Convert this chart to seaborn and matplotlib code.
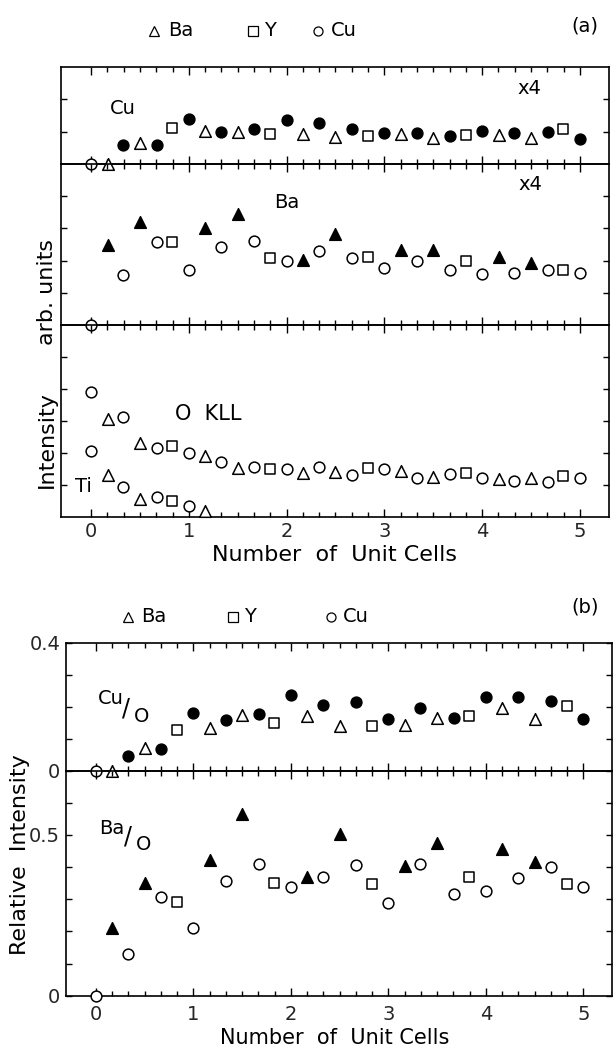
import matplotlib.pyplot as plt
import matplotlib.lines as mlines
import seaborn as sns

sns.set_style("ticks")
plt.rcParams['font.family'] = ['DejaVu Sans']

# layer positions in unit cells: Cu, Ba and Y planes
x_cu = [0.0, 0.33, 0.67, 1.0, 1.33, 1.67, 2.0, 2.33, 2.67, 3.0, 3.33, 3.67, 4.0, 4.33, 4.67, 5.0]
x_ba = [0.17, 0.5, 1.17, 1.5, 2.17, 2.5, 3.17, 3.5, 4.17, 4.5]
x_y = [0.83, 1.83, 2.83, 3.83, 4.83]

# (a) Cu intensity (x4), arb. units
cu_a_cu = [0.0, 0.6, 0.6, 1.4, 0.99, 1.08, 1.36, 1.27, 1.07, 0.96, 0.96, 0.87, 1.03, 0.96, 0.99, 0.76]
cu_a_ba = [0.0, 0.65, 1.02, 0.99, 0.92, 0.83, 0.91, 0.8, 0.9, 0.8]
cu_a_y = [1.12, 0.92, 0.87, 0.9, 1.08]

# (a) Ba intensity (x4)
ba_a_cu = [0.0, 1.56, 2.58, 1.7, 2.42, 2.6, 1.99, 2.29, 2.08, 1.77, 1.98, 1.7, 1.59, 1.61, 1.7, 1.63]
ba_a_ba = [2.48, 3.2, 3.0, 3.44, 2.03, 2.82, 2.33, 2.32, 2.12, 1.92]
ba_a_y = [2.58, 2.09, 2.1, 2.0, 1.72]

# (a) O KLL and Ti
o_cu = [3.9, 3.11, 2.14, 2.0, 1.7, 1.56, 1.48, 1.54, 1.29, 1.49, 1.2, 1.35, 1.22, 1.11, 1.1, 1.22]
o_ba = [3.06, 2.32, 1.9, 1.53, 1.37, 1.4, 1.42, 1.25, 1.18, 1.21]
o_y = [2.21, 1.5, 1.53, 1.37, 1.27]
ti_cu = [2.07, 0.92, 0.63, 0.33]
ti_ba = [1.31, 0.55, 0.19]
ti_y = [0.49]

# (b) relative intensities
cuo_cu = [0.0, 0.047, 0.067, 0.179, 0.157, 0.178, 0.236, 0.206, 0.216, 0.161, 0.197, 0.166, 0.229, 0.231, 0.219, 0.162]
cuo_ba = [0.0, 0.072, 0.134, 0.173, 0.171, 0.141, 0.143, 0.165, 0.195, 0.163]
cuo_y = [0.128, 0.15, 0.139, 0.17, 0.202]
bao_cu = [0.0, 0.129, 0.307, 0.21, 0.358, 0.409, 0.337, 0.368, 0.408, 0.288, 0.409, 0.316, 0.326, 0.366, 0.4, 0.338]
bao_ba = [0.211, 0.351, 0.422, 0.565, 0.37, 0.504, 0.402, 0.474, 0.455, 0.415]
bao_y = [0.29, 0.35, 0.348, 0.37, 0.348]

W, H = 614, 1047
fig = plt.figure(figsize=(W / 100, H / 100), dpi=100)
fig.patch.set_facecolor('white')

minor = [k / 6 for k in range(31) if k % 6]
sizes = {'o': 60, '^': 70, 's': 50}


def box(left, top, right, bottom):
    ax = fig.add_axes([left / W, 1 - bottom / H, (right - left) / W, (bottom - top) / H])
    ax.set_facecolor('none')
    return ax


def frame(ax, ylim, yticks, labels=False):
    ax.set_xlim(-0.31, 5.3)
    ax.set_ylim(*ylim)
    ax.set_xticks(range(6))
    ax.set_xticks(minor, minor=True)
    ax.set_yticks(yticks)
    ax.tick_params(which='both', direction='in', top=True, right=True, width=1.0,
                   color='black', labelsize=14, labelbottom=labels, labelleft=False)
    ax.tick_params(which='major', length=6)
    ax.tick_params(which='minor', length=3.5)
    ax.tick_params(axis='y', length=4.5)
    for sp in ax.spines.values():
        sp.set_linewidth(1.2)
        sp.set_color('black')
    ax.set_xlabel('')
    ax.set_ylabel('')


def pts(ax, x, y, marker, filled):
    sns.scatterplot(x=x, y=y, ax=ax, marker=marker, s=sizes[marker],
                    facecolor='black' if filled else 'white', edgecolor='black',
                    linewidth=1.1, clip_on=False, zorder=3, legend=False)


def txt(px, py, s, size=14, **kw):
    kw.setdefault('ha', 'left')
    kw.setdefault('va', 'center')
    fig.text(px / W, 1 - py / H, s, size=size, color='black', **kw)


def key(px, py, marker):
    fig.add_artist(mlines.Line2D([px / W], [1 - py / H], transform=fig.transFigure,
                                 marker=marker, markersize=6.5, markerfacecolor='white',
                                 markeredgecolor='black', markeredgewidth=0.9, linestyle='none'))


# ---- panel (a) ----
ax1 = box(60.7, 66.7, 609.3, 164)
ax2 = box(60.7, 164, 609.3, 325)
ax3 = box(60.7, 325, 609.3, 516.7)

pts(ax1, x_cu[:1], cu_a_cu[:1], 'o', False)
pts(ax1, x_cu[1:], cu_a_cu[1:], 'o', True)
pts(ax1, x_ba, cu_a_ba, '^', False)
pts(ax1, x_y, cu_a_y, 's', False)
frame(ax1, (0, 3), [1, 2])

pts(ax2, x_cu, ba_a_cu, 'o', False)
pts(ax2, x_ba, ba_a_ba, '^', True)
pts(ax2, x_y, ba_a_y, 's', False)
frame(ax2, (0, 5), [1, 2, 3, 4])

pts(ax3, x_cu, o_cu, 'o', False)
pts(ax3, x_ba, o_ba, '^', False)
pts(ax3, x_y, o_y, 's', False)
pts(ax3, x_cu[:4], ti_cu, 'o', False)
pts(ax3, x_ba[:3], ti_ba, '^', False)
pts(ax3, x_y[:1], ti_y, 's', False)
frame(ax3, (0, 6), [1, 2, 3, 4, 5], labels=True)
ax3.tick_params(axis='x', which='major', pad=4)

txt(585, 26, '(a)', ha='center')
key(154, 31, '^'); txt(168, 31, 'Ba')
key(253, 31, 's'); txt(264, 31, 'Y')
key(318, 31, 'o'); txt(331, 31, 'Cu')
txt(110, 108, 'Cu')
txt(517, 88, 'x4')
txt(518, 185, 'x4')
txt(274, 203, 'Ba')
txt(175, 414, 'O  KLL', size=15)
txt(75, 486, 'Ti')
txt(47, 440, 'Intensity', size=16, rotation=90, ha='center')
txt(47, 292, 'arb. units', size=16, rotation=90, ha='center')
txt(335, 555, 'Number  of  Unit Cells', size=16, ha='center')

# ---- panel (b) ----
ax4 = box(65.7, 642.7, 612.5, 770.7)
ax5 = box(65.7, 770.7, 612.5, 995.7)

pts(ax4, x_cu[:1], cuo_cu[:1], 'o', False)
pts(ax4, x_cu[1:], cuo_cu[1:], 'o', True)
pts(ax4, x_ba, cuo_ba, '^', False)
pts(ax4, x_y, cuo_y, 's', False)
frame(ax4, (0, 0.4), [0, 0.1, 0.2, 0.3, 0.4])
ax4.tick_params(axis='y', labelleft=True, pad=4)
ax4.set_yticklabels(['0', '', '', '', '0.4'])

pts(ax5, x_cu, bao_cu, 'o', False)
pts(ax5, x_ba, bao_ba, '^', True)
pts(ax5, x_y, bao_y, 's', False)
frame(ax5, (0, 0.7), [0, 0.1, 0.2, 0.3, 0.4, 0.5, 0.6], labels=True)
ax5.tick_params(axis='y', labelleft=True, pad=4)
ax5.set_yticklabels(['0', '', '', '', '', '0.5', ''])
ax5.tick_params(axis='x', which='major', pad=7)

txt(585, 607, '(b)', ha='center')
key(128, 617, '^'); txt(141, 617, 'Ba')
key(233, 617, 's'); txt(244, 617, 'Y')
key(331, 617, 'o'); txt(343, 617, 'Cu')
txt(98, 699, 'Cu')
txt(122, 708, '/', size=17)
txt(134, 716, 'O')
txt(99, 828, 'Ba')
txt(124, 837, '/', size=17)
txt(136, 845, 'O')
txt(20, 855, 'Relative  Intensity', size=16, rotation=90, ha='center')
txt(335, 1044, 'Number  of  Unit Cells', size=15, ha='center', va='baseline')

fig.savefig('out.png', dpi=100, facecolor='white')
